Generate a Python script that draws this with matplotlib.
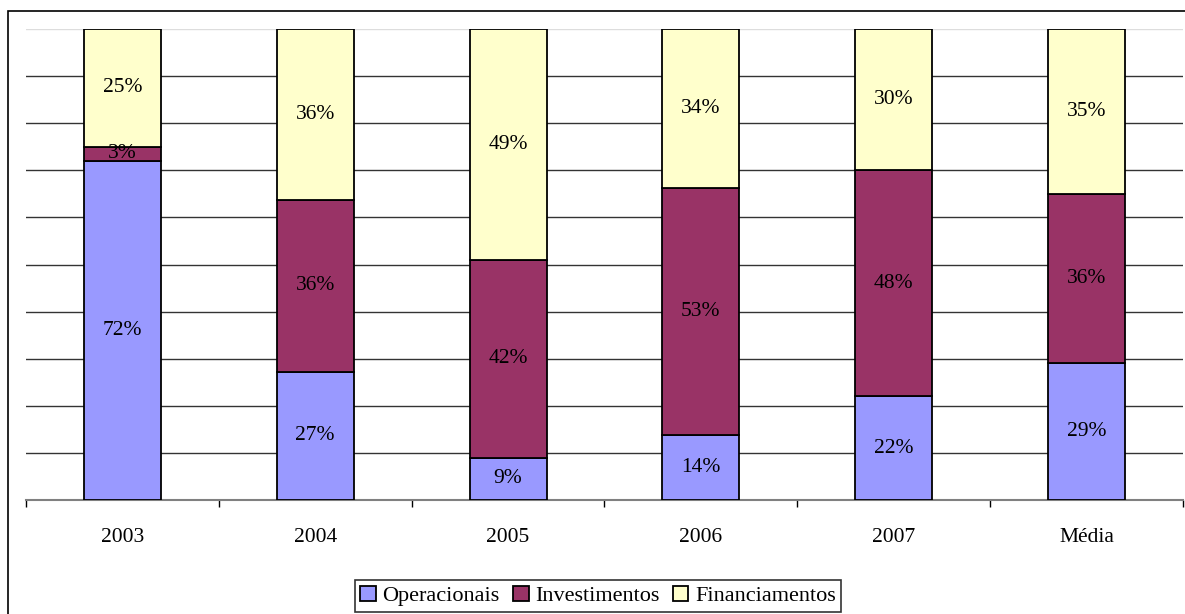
import matplotlib.pyplot as plt
from matplotlib.patches import Rectangle
import numpy as np

plt.rcParams['font.family'] = ['Liberation Serif', 'DejaVu Serif']

anos = ["2003", "2004", "2005", "2006", "2007", "Média"]
operacionais = [72, 27, 9, 14, 22, 29]
investimentos = [3, 36, 42, 53, 48, 36]
financiamentos = [25, 36, 49, 34, 30, 35]

series = [("Operacionais", operacionais, "#9999FF"),
          ("Investimentos", investimentos, "#993366"),
          ("Financiamentos", financiamentos, "#FFFFCC")]

fig = plt.figure(figsize=(11.85, 6.14), dpi=100)
ax = fig.add_axes([26 / 1185, 1 - 500 / 614, 1157 / 1185, 471 / 614])

# moldura do gráfico
fig.patches.append(Rectangle((8 / 1185, -0.1), 1.2, 1 - 11 / 614 + 0.1,
                             transform=fig.transFigure, fill=False,
                             edgecolor="black", linewidth=1.2))

x = np.arange(len(anos))
total = np.array(operacionais) + np.array(investimentos) + np.array(financiamentos)
base = np.zeros(len(anos))
for nome, vals, cor in series:
    frac = np.array(vals) / total
    ax.bar(x, frac, 0.4, bottom=base, color=cor, edgecolor="black",
           linewidth=1.3, label=nome, zorder=3)
    for xi, b, f, v in zip(x, base, frac, vals):
        ax.text(xi, b + f / 2, f"{v}%", ha="center", va="center",
                fontsize=15.5, zorder=4)
    base += frac

ax.set_xlim(-0.5, len(anos) - 0.5)
ax.set_ylim(0, 1)
ax.set_yticks(np.arange(0, 0.95, 0.1))
ax.set_yticklabels([])
ax.tick_params(axis="y", length=0)
ax.grid(axis="y", color="#333333", linewidth=1, zorder=0)
ax.axhline(1, color="#dddddd", linewidth=1, zorder=1)

ax.set_xticks(x)
ax.set_xticklabels(anos, fontsize=15.5)
ax.set_xticks(np.arange(-0.5, len(anos)), minor=True)
ax.tick_params(axis="x", which="major", length=0, pad=20)
ax.tick_params(axis="x", which="minor", length=5, width=1, color="black")

for s in ["top", "right", "left"]:
    ax.spines[s].set_visible(False)
ax.spines["bottom"].set_color("#808080")
ax.spines["bottom"].set_linewidth(1.5)

leg = fig.legend(loc="lower center", bbox_to_anchor=(598 / 1185, 0.0), ncol=3,
                 fontsize=16, frameon=True, fancybox=False, edgecolor="black",
                 handlelength=0.7, handleheight=0.7, handletextpad=0.3,
                 columnspacing=0.6, borderpad=0.25, borderaxespad=0.1)
leg.get_frame().set_linewidth(1.2)

fig.savefig("out.png", dpi=100, facecolor="white")
